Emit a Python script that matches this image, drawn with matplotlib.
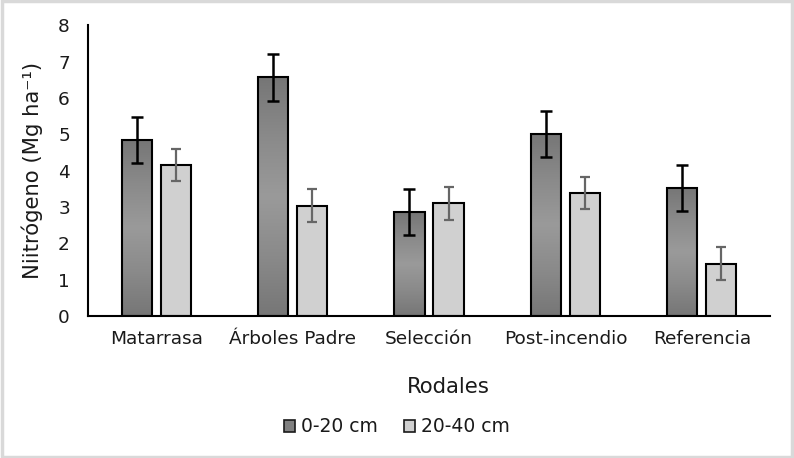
import numpy as np
import matplotlib
matplotlib.use("Agg")
import matplotlib.pyplot as plt
from matplotlib.colors import LinearSegmentedColormap
from matplotlib.patches import Patch, Rectangle

# Data
rodales = ["Matarrasa", "Árboles Padre", "Selección", "Post-incendio", "Referencia"]
n_0_20 = [4.85, 6.57, 2.86, 5.01, 3.53]
err_0_20 = [0.64, 0.64, 0.63, 0.63, 0.64]
n_20_40 = [4.16, 3.04, 3.10, 3.39, 1.44]
err_20_40 = [0.44, 0.45, 0.45, 0.45, 0.46]


def gradient_fill(ax, bars, cmap):
    # vertical gradient clipped to each bar
    grad = np.linspace(0, 1, 256).reshape(-1, 1)
    for b in bars:
        x, y = b.get_x(), b.get_y()
        w, h = b.get_width(), b.get_height()
        im = ax.imshow(grad, aspect="auto", cmap=cmap, origin="lower",
                       extent=(x, x + w, y, y + h), zorder=b.get_zorder() - 0.1)
        im.set_clip_path(b)
        b.set_facecolor("none")


if __name__ == "__main__":
    plt.rcParams['font.family'] = ['DejaVu Sans']

    fig = plt.figure(figsize=(7.94, 4.58), dpi=100)
    ax = fig.add_axes([0.1108, 0.31, 0.859, 0.6346])

    x = np.arange(len(rodales))
    off = 0.143
    wid = 0.222

    dark = ax.bar(x - off, n_0_20, wid, color="#808080", edgecolor="black",
                  linewidth=1.5, zorder=2, label="0-20 cm")
    light = ax.bar(x + off, n_20_40, wid, color="#d0d0d0", edgecolor="black",
                   linewidth=1.5, zorder=2, label="20-40 cm")

    cmap = LinearSegmentedColormap.from_list(
        "excelgray", ["#767676", "#8a8a8a", "#9a9a9a", "#8a8a8a", "#767676"])
    gradient_fill(ax, dark, cmap)

    ax.errorbar(x - off, n_0_20, yerr=err_0_20, fmt="none", ecolor="black",
                elinewidth=1.8, capsize=4, capthick=1.8, zorder=3)
    ax.errorbar(x + off, n_20_40, yerr=err_20_40, fmt="none", ecolor="#666666",
                elinewidth=1.6, capsize=3.5, capthick=1.6, zorder=3)

    ax.set_xlim(-0.5, len(rodales) - 0.5)
    ax.set_ylim(0, 8)
    ax.set_yticks(range(0, 9))
    ax.set_xticks(x)
    ax.set_xticklabels(rodales)

    for s in ["top", "right"]:
        ax.spines[s].set_visible(False)
    for s in ["left", "bottom"]:
        ax.spines[s].set_linewidth(1.5)
        ax.spines[s].set_color("black")

    ax.tick_params(axis="both", length=0, labelsize=13.3, colors="#1a1a1a")
    ax.tick_params(axis="y", pad=13)
    ax.tick_params(axis="x", pad=10)

    ax.set_ylabel("Niitrógeno (Mg ha⁻¹)", fontsize=15.2, color="#1a1a1a")
    ax.yaxis.set_label_coords(-0.066, 0.5)
    fig.text(0.564, 1 - 387 / 458, "Rodales", fontsize=15.3, color="#1a1a1a",
             ha="center", va="center")

    handles = [Patch(facecolor="#808080", edgecolor="#1a1a1a", linewidth=1.2),
               Patch(facecolor="#d0d0d0", edgecolor="#1a1a1a", linewidth=1.2)]
    fig.legend(handles, ["0-20 cm", "20-40 cm"], loc="center",
               bbox_to_anchor=(0.5, 1 - 427 / 458), ncol=2, frameon=False,
               fontsize=13.5, handlelength=0.6, handleheight=0.6,
               handletextpad=0.3, columnspacing=1.4, labelcolor="#1a1a1a")

    # light grey chart border
    fig.add_artist(Rectangle((0.002, 0.003), 0.995, 0.994, transform=fig.transFigure,
                             fill=False, edgecolor="#d9d9d9", linewidth=2.5))

    plt.savefig("out.png", dpi=100)
